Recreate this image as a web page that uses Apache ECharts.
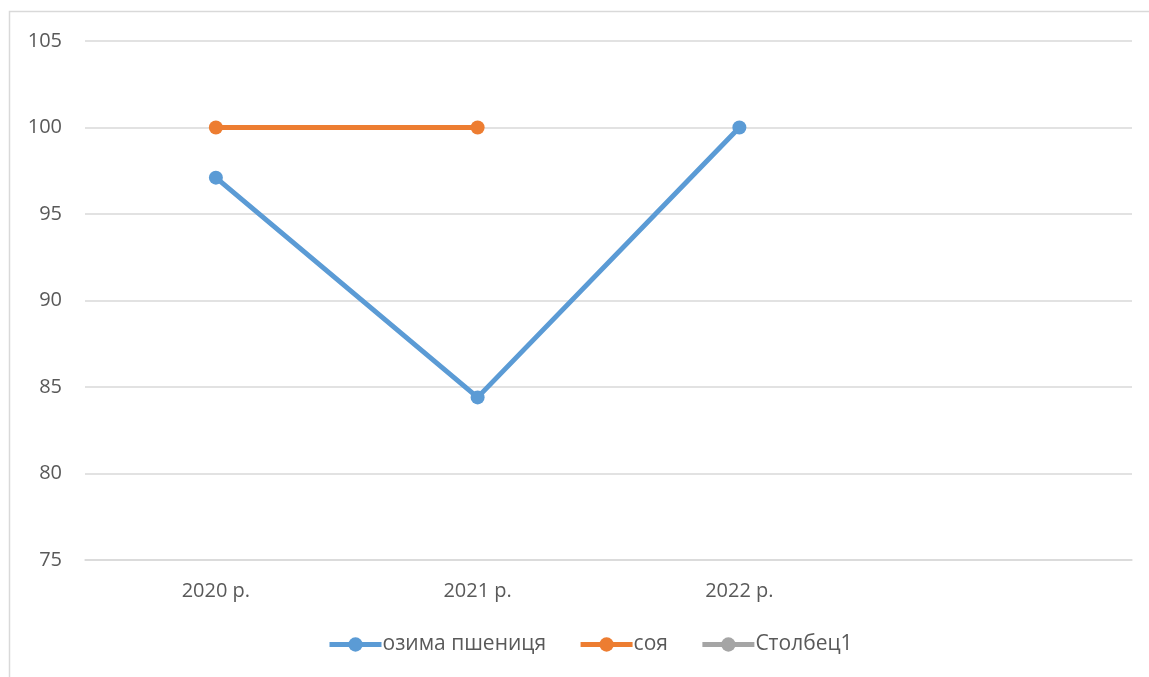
<!DOCTYPE html>
<html>
<head>
<meta charset="utf-8">
<script src="https://cdn.jsdelivr.net/npm/echarts@6/dist/echarts.min.js"></script>
<style>
  html, body { margin: 0; padding: 0; background: #fff; }
  #chart { width: 1149px; height: 677px; }
</style>
</head>
<body>
<div id="chart"></div>
<script>
// categories (4th slot is empty in the source chart)
const years = ['2020 р.', '2021 р.', '2022 р.', ''];
// series values
const wheat = [97.1, 84.4, 100, null];
const soy = [100, 100, null, null];
const stolbets = [null, null, null, null];
// y axis range
const yMin = 75;
const yMax = 105;
const yStep = 5;

const font = '"Open Sans", sans-serif';
const chart = echarts.init(document.getElementById('chart'));

function lineSeries(name, data, color) {
  return {
    name: name,
    type: 'line',
    data: data,
    symbol: 'circle',
    symbolSize: 14,
    connectNulls: false,
    lineStyle: { width: 5, color: color },
    itemStyle: { color: color },
    emphasis: { disabled: true }
  };
}

chart.setOption({
  animation: false,
  textStyle: { fontFamily: font },
  graphic: [{
    type: 'rect',
    shape: { x: 9.5, y: 11.5, width: 1200, height: 700 },
    style: { fill: 'none', stroke: '#d9d9d9', lineWidth: 1.5 },
    silent: true
  }],
  grid: { left: 85, right: 17, top: 41, bottom: 117 },
  legend: {
    bottom: 17,
    left: 322,
    itemWidth: 52,
    itemHeight: 18,
    itemGap: 32,
    lineStyle: { width: 5 },
    textStyle: { fontSize: 21, color: '#595959', fontFamily: font, padding: [0, 0, 0, -4] },
    data: ['озима пшениця', 'соя', 'Столбец1']
  },
  xAxis: {
    type: 'category',
    data: years,
    boundaryGap: true,
    axisLine: { lineStyle: { color: '#d9d9d9', width: 1.5 } },
    axisTick: { show: false },
    axisLabel: { color: '#595959', fontSize: 20, margin: 21, fontFamily: font }
  },
  yAxis: {
    type: 'value',
    min: yMin,
    max: yMax,
    interval: yStep,
    axisLine: { show: false },
    axisTick: { show: false },
    splitLine: { lineStyle: { color: '#d9d9d9', width: 1.5 } },
    axisLabel: { color: '#595959', fontSize: 20, margin: 23, fontFamily: font }
  },
  series: [
    lineSeries('озима пшениця', wheat, '#5b9bd5'),
    lineSeries('соя', soy, '#ed7d31'),
    lineSeries('Столбец1', stolbets, '#a5a5a5')
  ]
});
</script>
</body>
</html>
